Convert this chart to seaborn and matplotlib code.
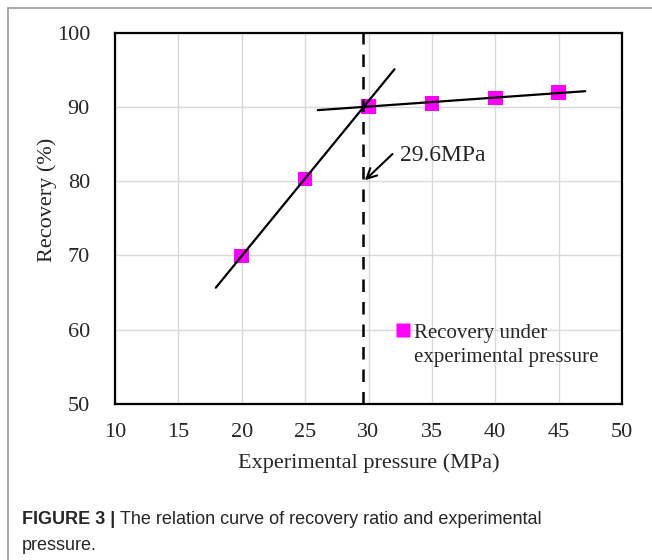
import matplotlib
matplotlib.use("Agg")
import matplotlib.pyplot as plt
import pandas as pd
import seaborn as sns
from matplotlib.lines import Line2D

# measured points
pressure = [20, 25, 30, 35, 40, 45]
recovery = [69.9, 80.3, 90.05, 90.45, 91.2, 91.95]

# fitted trend lines (end points)
fit_low_x = [17.95, 32.05]
fit_low_y = [65.65, 95.05]
fit_high_x = [26.0, 47.1]
fit_high_y = [89.55, 92.1]

mmp = 29.6
x_ticks = [10, 15, 20, 25, 30, 35, 40, 45, 50]
y_ticks = [50, 60, 70, 80, 90, 100]

sns.set_style("white")
plt.rcParams["font.family"] = ["Liberation Serif", "DejaVu Serif"]

fig = plt.figure(figsize=(6.52, 5.6), dpi=100)
ax = fig.add_axes([115 / 652, 1 - 404 / 560, 507 / 652, 371.5 / 560])

ax.grid(True, color="#d9d9d9", linewidth=1.0, zorder=0)
ax.set_axisbelow(True)

data = pd.DataFrame({"pressure": pressure, "recovery": recovery})
sns.scatterplot(data=data, x="pressure", y="recovery", ax=ax, marker="s",
                s=110, color="#ff00ff", edgecolor="none", zorder=3,
                legend=False)

sns.lineplot(x=fit_low_x, y=fit_low_y, ax=ax, color="black", linewidth=1.6,
             zorder=4)
sns.lineplot(x=fit_high_x, y=fit_high_y, ax=ax, color="black", linewidth=1.6,
             zorder=4)
ax.axvline(mmp, color="black", linestyle=(0, (5, 4)), linewidth=1.8, zorder=4)

ax.annotate("", xy=(29.55, 79.85), xytext=(32.05, 83.9),
            arrowprops=dict(arrowstyle="->", color="black", lw=1.5,
                            mutation_scale=18))
ax.text(32.5, 83.45, "29.6MPa", fontsize=17, va="center", ha="left")

ax.set_xlim(10, 50)
ax.set_ylim(50, 100)
ax.set_xticks(x_ticks)
ax.set_yticks(y_ticks)
ax.tick_params(axis="x", direction="in", length=4, width=1, color="#888888",
               labelsize=16, pad=14)
ax.tick_params(axis="y", length=0, labelsize=16, pad=18)
for sp in ax.spines.values():
    sp.set_color("black")
    sp.set_linewidth(1.6)

ax.set_xlabel("Experimental pressure (MPa)", fontsize=16, labelpad=8)
ax.set_ylabel("Recovery (%)", fontsize=16)
ax.yaxis.set_label_coords((57 - 115) / 507, (404 - 200) / 371.5)

handle = Line2D([], [], marker="s", linestyle="none", markersize=10,
                markerfacecolor="#ff00ff", markeredgecolor="none")
blank = Line2D([], [], linestyle="none")
ax.legend([handle, blank], ["Recovery under", "experimental pressure"],
          frameon=False, loc="upper left",
          bbox_to_anchor=(397 / 652, 1 - 323 / 560),
          bbox_transform=fig.transFigure, fontsize=15, handlelength=0.6,
          handletextpad=0.2, borderpad=0, borderaxespad=0, labelspacing=0.22)

# outer frame of the figure panel
fig.add_artist(Line2D([8 / 652, 1.0], [1 - 8 / 560, 1 - 8 / 560],
                      transform=fig.transFigure, color="#999999", lw=1.2))
fig.add_artist(Line2D([8 / 652, 8 / 652], [0, 1 - 8 / 560],
                      transform=fig.transFigure, color="#999999", lw=1.2))

sans = ["Liberation Sans", "DejaVu Sans"]
t = fig.text(22 / 652, 1 - 519 / 560, "FIGURE 3 | ", fontsize=13,
             fontweight="bold", family=sans, va="center", ha="left")
fig.canvas.draw()
bb = t.get_window_extent()
fig.text(bb.x1 / fig.bbox.width, 1 - 519 / 560,
         "The relation curve of recovery ratio and experimental",
         fontsize=13, family=sans, va="center", ha="left")
fig.text(22 / 652, 1 - 545 / 560, "pressure.", fontsize=13, family=sans,
         va="center", ha="left")

fig.savefig("out.png", dpi=100)
